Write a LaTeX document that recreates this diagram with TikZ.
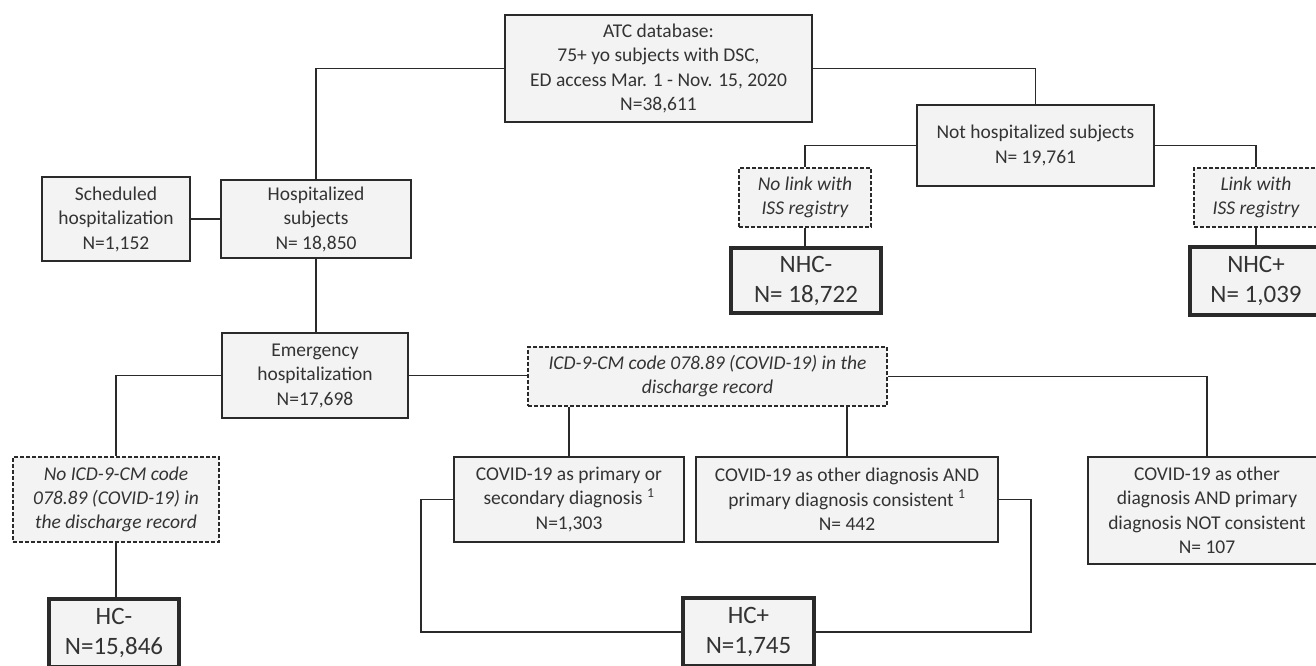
\documentclass[tikz,border=0pt]{standalone}
\usepackage{fontspec}
\setmainfont{Carlito}
\usepackage{tikz}
\usetikzlibrary{calc}
\definecolor{boxfill}{HTML}{F2F3F2}
\definecolor{boxline}{HTML}{2A2A2A}
\definecolor{txt}{HTML}{333333}

\begin{document}
\begin{tikzpicture}[x=1pt,y=-1pt,
  box/.style={draw=boxline,fill=boxfill,line width=1.6pt,text=txt,align=center,
    inner sep=0pt,font=\fontsize{19.5}{24.5}\selectfont},
  dbox/.style={box,line width=1.3pt,dash pattern=on 4pt off 2pt,
    font=\fontsize{19.5}{24}\selectfont\itshape},
  bigbox/.style={box,line width=3.8pt,font=\fontsize{25}{30}\selectfont},
  conn/.style={draw=boxline,line width=1.8pt}]
  \useasboundingbox (0,0) rectangle (1316,665);

  % database
  \node[box,minimum width=307,minimum height=107] (atc) at (658.5,68.5)
    {ATC database:\\75+ yo subjects with DSC,\\ED access Mar. 1 - Nov. 15, 2020\\N=38,611};

  % ricoverati
  \node[box,minimum width=190,minimum height=78] (hosp) at (316,219)
    {Hospitalized\\subjects\\N= 18,850};
  \node[box,minimum width=148,minimum height=84] (sched) at (116,219)
    {Scheduled\\hospitalization\\N=1,152};
  \node[box,minimum width=186,minimum height=85] (emerg) at (315,375.5)
    {Emergency\\hospitalization\\N=17,698};

  % non ricoverati
  \node[box,minimum width=237,minimum height=81] (nothosp) at (1035.5,145.5)
    {Not hospitalized subjects\\N= 19,761};
  \node[dbox,minimum width=132,minimum height=59] (nolink) at (805,197.5)
    {No link with\\ISS registry};
  \node[dbox,minimum width=124,minimum height=59] (islink) at (1256,197.5)
    {Link with\\ISS registry};
  \node[bigbox,minimum width=150,minimum height=65] (nhcm) at (806,280.5)
    {NHC-\\N= 18,722};
  \node[bigbox,minimum width=132,minimum height=68] (nhcp) at (1256,281)
    {NHC+\\N= 1,039};

  % codici
  \node[dbox,minimum width=206,minimum height=85] (noicd) at (116,499.5)
    {No ICD-9-CM code\\078.89 (COVID-19) in\\the discharge record};
  \node[dbox,minimum width=359,minimum height=59] (icd) at (707.5,376.5)
    {ICD-9-CM code 078.89 (COVID-19) in the\\discharge record};
  \node[box,minimum width=230,minimum height=85] (prim) at (569,499.5)
    {COVID-19 as primary or\\secondary diagnosis \textsuperscript{1}\\N=1,303};
  \node[box,minimum width=302,minimum height=85] (other) at (847,499.5)
    {COVID-19 as other diagnosis AND\\primary diagnosis consistent \textsuperscript{1}\\N= 442};
  \node[box,minimum width=238,minimum height=107] (notcons) at (1207,510.5)
    {COVID-19 as other\\diagnosis AND primary\\diagnosis NOT consistent\\N= 107};
  \node[bigbox,minimum width=130,minimum height=68] (hcm) at (114,633)
    {HC-\\N=15,846};
  \node[bigbox,minimum width=131,minimum height=68] (hcp) at (748.5,632)
    {HC+\\N=1,745};

  % connessioni
  \draw[conn] (atc.west) -| (hosp.north);
  \draw[conn] (atc.east) -| (nothosp.north);
  \draw[conn] (hosp.west) -- (sched.east);
  \draw[conn] (hosp.south) -- (hosp.south |- emerg.north);
  \draw[conn] (nothosp.west) -| (nolink.north);
  \draw[conn] (nothosp.east) -| (islink.north);
  \draw[conn] (nolink.south) -- (nolink.south |- nhcm.north);
  \draw[conn] (islink.south) -- (islink.south |- nhcp.north);
  \draw[conn] (emerg.west) -| (noicd.north);
  \draw[conn] (emerg.east) -- (emerg.east -| icd.west);
  \draw[conn] (noicd.south) -- (noicd.south |- hcm.north);
  \draw[conn] (prim.north |- icd.south) -- (prim.north);
  \draw[conn] (other.north |- icd.south) -- (other.north);
  \draw[conn] (icd.east) -| (notcons.north);
  \draw[conn] (prim.west) -- ++(-32,0) |- (hcp.west);
  \draw[conn] (other.east) -- ++(32,0) |- (hcp.east);
\end{tikzpicture}
\end{document}
